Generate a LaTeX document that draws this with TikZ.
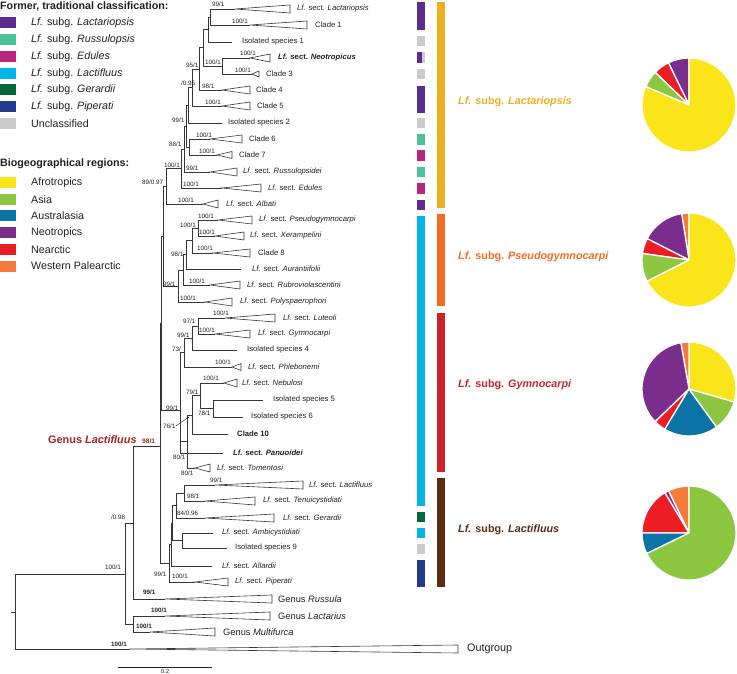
\documentclass[tikz,border=0pt]{standalone}
\usepackage{fontspec}
\setmainfont{Liberation Sans}
\usetikzlibrary{arrows.meta}
\definecolor{cLact}{HTML}{5C2D91}
\definecolor{cRuss}{HTML}{4CC29B}
\definecolor{cEdul}{HTML}{B8267E}
\definecolor{cLacf}{HTML}{00B6E6}
\definecolor{cGera}{HTML}{00693A}
\definecolor{cPipe}{HTML}{233C8C}
\definecolor{cUncl}{HTML}{CBCBCB}
\definecolor{rAfro}{HTML}{F9E51A}
\definecolor{rAsia}{HTML}{8DC641}
\definecolor{rAust}{HTML}{0B73A6}
\definecolor{rNeot}{HTML}{7B2D8E}
\definecolor{rNear}{HTML}{EC1D25}
\definecolor{rWPal}{HTML}{F47B3B}
\definecolor{sgGold}{HTML}{EBB021}
\definecolor{sgOran}{HTML}{F26A24}
\definecolor{sgRed}{HTML}{CD2228}
\definecolor{sgBrown}{HTML}{5A2D10}
\definecolor{genRed}{HTML}{A5231F}
\definecolor{ink}{HTML}{231F20}
\newcounter{nn}
\newcommand\supv[3]{\stepcounter{nn}\node[sv] (v\thenn) at (#1,#2) {#3};}
\newcommand\supb[3]{\stepcounter{nn}\node[svb] (v\thenn) at (#1,#2) {#3};}
\newcommand\tiplab[4]{\node[tip] (#1) at (#2,#3) {#4};}
\newcommand\lfsect[1]{\textit{Lf.} sect. \textit{#1}}
\newcommand\cladetri[5]{\coordinate (#1) at (#2,#4);
  \draw[tri] (#1) -- (#3,#4-#5) -- (#3,#4+#5) -- cycle;}
\newcommand\legitem[4]{\fill[#3] (0,#2-5.5) rectangle (16,#2+5.5);
  \node[leg] (#1) at (31,#2) {#4};}
\newcommand\pslice[4]{\fill[#4, draw=white, line width=1.3pt, line join=round]
  (#1) -- ++(-#2:47) arc[start angle=-#2, end angle=-#3, radius=47] -- cycle;}
\begin{document}
\begin{tikzpicture}[x=1pt,y=-1pt,
  br/.style={line width=0.6pt, draw=ink!90},
  tri/.style={line width=0.6pt, draw=ink!90, fill=white, line join=miter},
  sv/.style={font=\fontsize{6.3}{7}\selectfont, inner sep=0, anchor=west, text=ink},
  svb/.style={font=\fontsize{6.3}{7}\selectfont\bfseries, inner sep=0, anchor=west, text=ink},
  tip/.style={font=\fontsize{7.7}{9}\selectfont, inner sep=0, anchor=west, text=ink},
  gtip/.style={font=\fontsize{9.3}{11}\selectfont, inner sep=0, anchor=west, text=ink},
  leg/.style={font=\fontsize{10.7}{12}\selectfont, inner sep=0, anchor=west, text=ink},
  hdr/.style={font=\fontsize{10.7}{12}\selectfont\bfseries, inner sep=0, anchor=west, text=ink},
  sgl/.style={font=\fontsize{10.8}{12}\selectfont\bfseries, inner sep=0, anchor=west}]
\useasboundingbox (0,0) rectangle (737,674);

% ---------------- legend ----------------
\node[hdr] (hdrA) at (0,6) {Former, traditional classification:};
\legitem{lgA}{23}{cLact}{\textit{Lf.} subg. \textit{Lactariopsis}}
\legitem{lgB}{40}{cRuss}{\textit{Lf.} subg. \textit{Russulopsis}}
\legitem{lgC}{57}{cEdul}{\textit{Lf.} subg. \textit{Edules}}
\legitem{lgD}{73.5}{cLacf}{\textit{Lf.} subg. \textit{Lactifluus}}
\legitem{lgE}{90}{cGera}{\textit{Lf.} subg. \textit{Gerardii}}
\legitem{lgF}{107}{cPipe}{\textit{Lf.} subg. \textit{Piperati}}
\legitem{lgG}{124}{cUncl}{Unclassified}
\node[hdr] (hdrB) at (0,164) {Biogeographical regions:};
\legitem{lrA}{183}{rAfro}{Afrotropics}
\legitem{lrB}{199.5}{rAsia}{Asia}
\legitem{lrC}{216}{rAust}{Australasia}
\legitem{lrD}{233}{rNeot}{Neotropics}
\legitem{lrE}{249.5}{rNear}{Nearctic}
\legitem{lrF}{266}{rWPal}{Western Palearctic}

% ---------------- tips ----------------
\cladetri{t1}{235}{290}{9}{4}
\cladetri{t2}{250}{307}{25}{4}
\coordinate (t3) at (232,42);
\cladetri{t4}{250}{270}{58}{4}
\cladetri{t5}{252}{259}{74}{3}
\cladetri{t6}{222}{250}{90}{4}
\cladetri{t7}{222}{250}{106}{4}
\coordinate (t8) at (222,123);
\cladetri{t9}{210}{242}{139}{4}
\cladetri{t10}{217}{232}{155}{3.5}
\cladetri{t11}{210}{237}{172}{4}
\cladetri{t12}{222}{261}{188}{4}
\cladetri{t13}{203}{218}{204}{4}
\cladetri{t14}{218}{252}{220}{4}
\cladetri{t15}{215}{244}{236}{4}
\cladetri{t16}{213}{250}{253}{4}
\coordinate (t17) at (241,269);
\cladetri{t18}{210}{240}{285}{4}
\cladetri{t19}{205}{232}{302}{4}
\cladetri{t20}{225}{275}{318}{4}
\cladetri{t21}{215}{250}{334}{4}
\coordinate (t22) at (237,350);
\cladetri{t23}{232}{241}{367}{3.5}
\cladetri{t24}{224}{237}{383}{4}
\coordinate (t25) at (263,400);
\coordinate (t26) at (243,417);
\coordinate (t27) at (228,434);
\coordinate (t28) at (223,453);
\cladetri{t29}{195}{210}{468}{4}
\cladetri{t30}{215}{303}{485}{4}
\cladetri{t31}{205}{255}{501}{4}
\cladetri{t32}{205}{274}{518}{4}
\coordinate (t33) at (213,533);
\coordinate (t34) at (227,548);
\coordinate (t35) at (212,566);
\cladetri{t36}{195}{228}{582}{4}
\cladetri{t37}{165}{272}{599}{4}
\cladetri{t38}{165}{270}{616}{4}
\cladetri{t39}{150}{215}{632}{4}
\cladetri{t40}{130}{458}{649}{4}

% ---------------- internal nodes ----------------
\coordinate (A) at (210,17);
\coordinate (B) at (208,29.5);
\coordinate (C) at (222,66);
\coordinate (D) at (203,47.75);
\coordinate (E) at (199,68.9);
\coordinate (F) at (192,87.5);
\coordinate (F2) at (188,105.25);
\coordinate (I67) at (189,147);
\coordinate (H) at (186,126);
\coordinate (H2) at (184,149);
\coordinate (H3) at (181,168.5);
\coordinate (G) at (166,186.25);
\coordinate (P1) at (198,228);
\coordinate (P2) at (192,240.5);
\coordinate (P3) at (186,254.75);
\coordinate (P4) at (183,269.9);
\coordinate (P5) at (178,285.9);
\coordinate (Y1) at (163,236);
\coordinate (Q1) at (198,326);
\coordinate (Q2) at (192,338);
\coordinate (Q3) at (184,352.5);
\coordinate (R1) at (213,408.5);
\coordinate (R2) at (200,395.75);
\coordinate (R3) at (192,414.9);
\coordinate (R4) at (187,441.4);
\coordinate (R5) at (180,410);
\coordinate (Y2) at (161.5,323);
\coordinate (S1) at (184,493);
\coordinate (S2) at (176,505.5);
\coordinate (S3) at (182,540.5);
\coordinate (S4) at (172,523);
\coordinate (S5) at (171,544.5);
\coordinate (S6) at (169,563);
\coordinate (GL) at (160,446);
\coordinate (LR) at (133,523);
\coordinate (LM) at (133,624);
\coordinate (ING) at (125,574);
\coordinate (R0) at (15,612);
\coordinate (RS) at (11,612);

% ---------------- branches ----------------
\draw[br] (A) |- (t1); \draw[br] (A) |- (t2);
\draw[br] (B) |- (A); \draw[br] (B) |- (t3);
\draw[br] (C) |- (t4); \draw[br] (C) |- (t5);
\draw[br] (D) |- (B); \draw[br] (D) |- (C);
\draw[br] (E) |- (D); \draw[br] (E) |- (t6);
\draw[br] (F) |- (E); \draw[br] (F) |- (t7);
\draw[br] (F2) |- (F); \draw[br] (F2) |- (t8);
\draw[br] (I67) |- (t9); \draw[br] (I67) |- (t10);
\draw[br] (H) |- (F2); \draw[br] (H) |- (I67);
\draw[br] (H2) |- (H); \draw[br] (H2) |- (t11);
\draw[br] (H3) |- (H2); \draw[br] (H3) |- (t12);
\draw[br] (G) |- (H3); \draw[br] (G) |- (t13);
\draw[br] (P1) |- (t14); \draw[br] (P1) |- (t15);
\draw[br] (P2) |- (P1); \draw[br] (P2) |- (t16);
\draw[br] (P3) |- (P2); \draw[br] (P3) |- (t17);
\draw[br] (P4) |- (P3); \draw[br] (P4) |- (t18);
\draw[br] (P5) |- (P4); \draw[br] (P5) |- (t19);
\draw[br] (Y1) |- (G); \draw[br] (Y1) |- (P5);
\draw[br] (Q1) |- (t20); \draw[br] (Q1) |- (t21);
\draw[br] (Q2) |- (Q1); \draw[br] (Q2) |- (t22);
\draw[br] (Q3) |- (Q2); \draw[br] (Q3) |- (t23);
\draw[br] (R1) |- (t25); \draw[br] (R1) |- (t26);
\draw[br] (R2) |- (t24); \draw[br] (R2) |- (R1);
\draw[br] (R3) |- (R2); \draw[br] (R3) |- (t27);
\draw[br] (R4) |- (R3); \draw[br] (R4) |- (t29);
\draw[br] (R5) |- (Q3); \draw[br] (R5) |- (R4); \draw[br] (R5) |- (t28);
\draw[br] (Y2) |- (Y1); \draw[br] (Y2) |- (R5);
\draw[br] (S1) |- (t30); \draw[br] (S1) |- (t31);
\draw[br] (S2) |- (S1); \draw[br] (S2) |- (t32);
\draw[br] (S3) |- (t33); \draw[br] (S3) |- (t34);
\draw[br] (S4) |- (S2); \draw[br] (S4) |- (S3);
\draw[br] (S5) |- (S4); \draw[br] (S5) |- (t35);
\draw[br] (S6) |- (S5); \draw[br] (S6) |- (t36);
\draw[br] (GL) |- (Y2); \draw[br] (GL) |- (S6);
\draw[br] (LR) |- (GL); \draw[br] (LR) |- (t37);
\draw[br] (LM) |- (t38); \draw[br] (LM) |- (t39);
\draw[br] (ING) |- (LR); \draw[br] (ING) |- (LM);
\draw[br] (R0) |- (ING); \draw[br] (R0) |- (t40);
\draw[br] (RS) -- (R0);

% ---------------- support values ----------------
\supv{212}{4}{99/1}
\supv{232}{21}{100/1}
\supv{240}{53.5}{100/1}
\supv{205}{62}{100/1}
\supv{235}{70}{100/1}
\supv{186}{65}{95/1}
\supv{202}{86}{98/1}
\supv{181}{83}{/0.95}
\supv{205}{102}{100/1}
\supv{172}{120}{99/1}
\supv{196}{135}{100/1}
\supv{199}{151.5}{100/1}
\supv{169}{144}{88/1}
\supv{186}{168}{99/1}
\supv{164}{165}{100/1}
\supv{183}{184}{100/1}
\supv{142}{182.5}{89/0.97}
\supv{178}{200.5}{100/1}
\supv{198}{216.5}{100/1}
\supv{180}{225}{100/1}
\supv{199}{232}{100/1}
\supv{197}{248.5}{100/1}
\supv{171}{254}{98/1}
\supv{189}{281}{100/1}
\supv{163}{284}{99/1}
\supv{180}{298}{100/1}
\supv{213}{313.5}{100/1}
\supv{183}{321}{97/1}
\supv{199}{330}{100/1}
\supv{177}{335}{99/1}
\supv{172}{349}{73/}
\supv{215}{362.5}{100/1}
\supv{203}{378.5}{100/1}
\supv{186}{392}{79/1}
\supv{166}{408}{99/1}
\supv{198}{413}{78/1}
\node[sv] (lab76) at (163,426) {76/1};
\coordinate (n76) at (189,417);
\draw[line width=0.4pt, draw=ink, -{Stealth[length=2.5pt,width=2pt]}] (lab76.east) -- (n76);
\supv{173}{457}{80/1}
\supv{181}{473}{80/1}
\supv{210}{480}{99/1}
\supv{187}{496}{98/1}
\supv{177}{513}{84/0.96}
\supv{154}{574}{99/1}
\supv{172}{576.5}{100/1}
\supv{111}{517}{/0.98}
\supv{105}{567}{100/1}
\supb{143}{592.5}{99/1}
\supb{151}{610}{100/1}
\supb{136}{626}{100/1}
\supb{111}{644}{100/1}

\node[font=\fontsize{10.9}{12}\selectfont\bfseries, text=genRed, inner sep=0, anchor=west] (genus) at (48,440) {Genus \textit{Lactifluus}};
\node[font=\fontsize{6.6}{7}\selectfont\bfseries, text=genRed, inner sep=0, anchor=west] (g98) at (142,441) {98/1};

% ---------------- tip labels ----------------
\tiplab{l1}{297}{9}{\lfsect{Lactariopsis}}
\tiplab{l2}{315}{25}{Clade 1}
\tiplab{l3}{242}{42}{Isolated species 1}
\tiplab{l4}{278}{58}{\textbf{\lfsect{Neotropicus}}}
\tiplab{l5}{266}{74}{Clade 3}
\tiplab{l6}{256}{90}{Clade 4}
\tiplab{l7}{257}{106}{Clade 5}
\tiplab{l8}{228}{123}{Isolated species 2}
\tiplab{l9}{249}{139}{Clade 6}
\tiplab{l10}{239}{155}{Clade 7}
\tiplab{l11}{243}{172}{\lfsect{Russulopsidei}}
\tiplab{l12}{268}{188}{\lfsect{Edules}}
\tiplab{l13}{226}{204}{\lfsect{Albati}}
\tiplab{l14}{259}{220}{\lfsect{Pseudogymnocarpi}}
\tiplab{l15}{250}{236}{\lfsect{Xerampelini}}
\tiplab{l16}{258}{253}{Clade 8}
\tiplab{l17}{252}{269}{\lfsect{Aurantiifolii}}
\tiplab{l18}{247}{285}{\lfsect{Rubroviolascentini}}
\tiplab{l19}{240}{302}{\lfsect{Polyspaerophori}}
\tiplab{l20}{283}{318}{\lfsect{Luteoli}}
\tiplab{l21}{258}{334}{\lfsect{Gymnocarpi}}
\tiplab{l22}{247}{350}{Isolated species 4}
\tiplab{l23}{248}{367}{\lfsect{Phlebonemi}}
\tiplab{l24}{242}{383}{\lfsect{Nebulosi}}
\tiplab{l25}{273}{400}{Isolated species 5}
\tiplab{l26}{251}{417}{Isolated species 6}
\tiplab{l27}{237}{434}{\textbf{Clade 10}}
\tiplab{l28}{233}{453}{\textbf{\lfsect{Panuoidei}}}
\tiplab{l29}{217}{468}{\lfsect{Tomentosi}}
\tiplab{l30}{309}{485}{\lfsect{Lactifluus}}
\tiplab{l31}{263}{501}{\lfsect{Tenuicystidiati}}
\tiplab{l32}{283}{518}{\lfsect{Gerardii}}
\tiplab{l33}{222}{533}{\lfsect{Ambicystidiati}}
\tiplab{l34}{235}{548}{Isolated species 9}
\tiplab{l35}{222}{566}{\lfsect{Allardii}}
\tiplab{l36}{235}{582}{\lfsect{Piperati}}
\node[gtip] (l37) at (278,599) {Genus \textit{Russula}};
\node[gtip] (l38) at (278,616) {Genus \textit{Lactarius}};
\node[gtip] (l39) at (223,632) {Genus \textit{Multifurca}};
\node[font=\fontsize{10.8}{12}\selectfont, inner sep=0, anchor=west, text=ink] (l40) at (467,649) {Outgroup};

% scale bar
\coordinate (sb1) at (118,667);
\coordinate (sb2) at (212,667);
\draw[line width=0.6pt, draw=ink] (sb1) -- (sb2);
\node[font=\fontsize{6}{7}\selectfont, inner sep=0, text=ink] (sbl) at (165,671.5) {0.2};

% ---------------- classification bars ----------------
\fill[cLact] (417,2) rectangle (425,30);
\fill[cUncl] (417,36.5) rectangle (425,46.5);
\fill[cLact] (417,52.5) rectangle (421.5,63);
\fill[cUncl] (421.5,52.5) rectangle (425,63);
\fill[cUncl] (417,69.5) rectangle (425,79.5);
\fill[cLact] (417,86) rectangle (425,113);
\fill[cUncl] (417,118.5) rectangle (425,128.5);
\fill[cRuss] (417,134.5) rectangle (425,145);
\fill[cEdul] (417,150.5) rectangle (425,161);
\fill[cRuss] (417,167) rectangle (425,177.5);
\fill[cEdul] (417,183.5) rectangle (425,194);
\fill[cLact] (417,200) rectangle (425,210.5);
\fill[cLacf] (417,216) rectangle (425,506);
\fill[cGera] (417,511.5) rectangle (425,522);
\fill[cLacf] (417,528) rectangle (425,538);
\fill[cUncl] (417,544) rectangle (425,554);
\fill[cPipe] (417,560) rectangle (425,587);

\fill[sgGold] (437,2) rectangle (445,208.5);
\fill[sgOran] (437,214) rectangle (445,306);
\fill[sgRed] (437,313) rectangle (445,472);
\fill[sgBrown] (437,478) rectangle (445,587);

\node[sgl, text=sgGold] (sg1) at (458,102) {\textit{Lf.} subg. \textit{Lactariopsis}};
\node[sgl, text=sgOran] (sg2) at (458,257) {\textit{Lf.} subg. \textit{Pseudogymnocarpi}};
\node[sgl, text=sgRed] (sg3) at (458,385) {\textit{Lf.} subg. \textit{Gymnocarpi}};
\node[sgl, text=sgBrown] (sg4) at (458,530) {\textit{Lf.} subg. \textit{Lactifluus}};

% ---------------- pies ----------------
\coordinate (pie1) at (689,105);
\pslice{pie1}{90}{116}{rNeot}
\pslice{pie1}{116}{136}{rNear}
\pslice{pie1}{136}{157}{rAsia}
\pslice{pie1}{157}{450}{rAfro}
\coordinate (pie2) at (689,260);
\pslice{pie2}{90}{99}{rWPal}
\pslice{pie2}{99}{153}{rNeot}
\pslice{pie2}{153}{172}{rNear}
\pslice{pie2}{172}{207}{rAsia}
\pslice{pie2}{207}{450}{rAfro}
\coordinate (pie3) at (689,389);
\pslice{pie3}{344}{450}{rAfro}
\pslice{pie3}{90}{100}{rWPal}
\pslice{pie3}{100}{224}{rNeot}
\pslice{pie3}{224}{239}{rNear}
\pslice{pie3}{239}{306}{rAust}
\pslice{pie3}{306}{344}{rAsia}
\coordinate (pie4) at (689,533);
\pslice{pie4}{90}{116}{rWPal}
\pslice{pie4}{116}{121}{rNeot}
\pslice{pie4}{121}{180}{rNear}
\pslice{pie4}{180}{206}{rAust}
\pslice{pie4}{206}{450}{rAsia}
\end{tikzpicture}
\end{document}
